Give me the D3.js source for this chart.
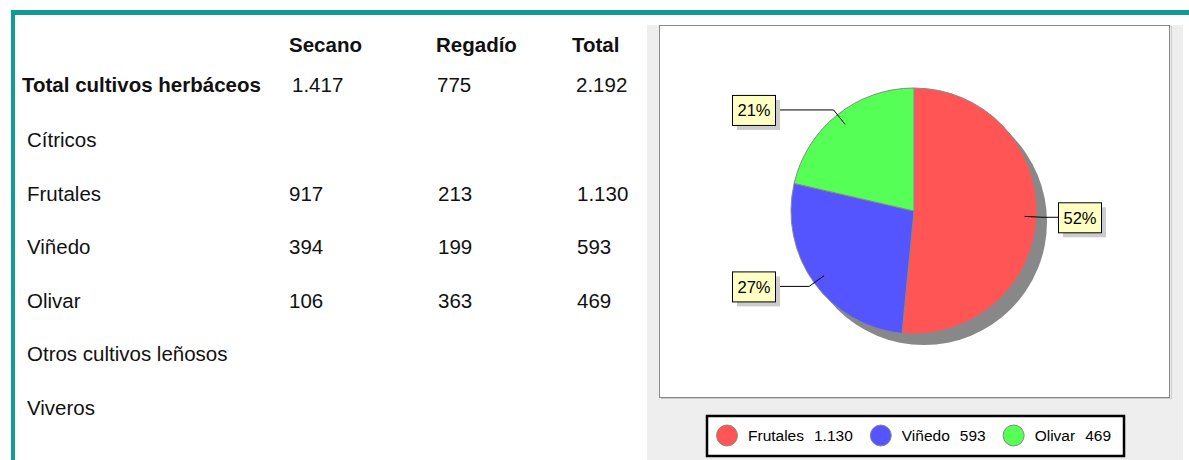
<!DOCTYPE html>
<html>
<head>
<meta charset="utf-8">
<script src="https://cdn.jsdelivr.net/npm/d3@7"></script>
<style>
  body { margin: 0; background: #fff; }
  svg { display: block; font-family: "Liberation Sans", Arial, sans-serif; }
</style>
</head>
<body>
<script>
const width = 1189,
      height = 460;

// table data
const columns = ["Secano", "Regadío", "Total"];
const rowLabels = ["Total cultivos herbáceos", "Cítricos", "Frutales", "Viñedo", "Olivar", "Otros cultivos leñosos", "Viveros"];
const secano  = [1417, null, 917, 394, 106, null, null];
const regadio = [775, null, 213, 199, 363, null, null];
const total   = [2192, null, 1130, 593, 469, null, null];

// pie data
const pieLabels = ["Frutales", "Viñedo", "Olivar"];
const pieValues = [1130, 593, 469];
const pieColors = ["#ff5555", "#5555ff", "#55ff55"];

const es = d3.formatLocale({decimal: ",", thousands: ".", grouping: [3], currency: ["", " €"]});
const fmt = es.format(",d");

var svg = d3.select("body").append("svg")
	.attr("width", width)
	.attr("height", height);

// teal frame
svg.append("rect").attr("x", 11).attr("y", 10).attr("width", width - 11).attr("height", 5).attr("fill", "#0f9c95");
svg.append("rect").attr("x", 11).attr("y", 10).attr("width", 4).attr("height", height - 10).attr("fill", "#0f9c95");

// ---- table ----
const colX = [289, 436, 572];
const valX = [[292, 437, 576], [289, 438, 577]];
const rowY = d3.scalePoint().domain(d3.range(1, rowLabels.length)).range([147, 415]);

var table = svg.append("g").style("font-size", "20.5px").attr("fill", "#111");

table.selectAll(".head")
	.data(columns)
	.enter().append("text")
	.attr("x", (d, i) => colX[i])
	.attr("y", 52)
	.style("font-weight", "bold")
	.text(d => d);

var rows = table.selectAll(".row")
	.data(rowLabels)
	.enter().append("g")
	.attr("transform", (d, i) => "translate(0," + (i == 0 ? 92 : rowY(i)) + ")");

rows.append("text")
	.attr("x", (d, i) => i == 0 ? 22 : 27)
	.style("font-weight", (d, i) => i == 0 ? "bold" : "normal")
	.text(d => d);

rows.each(function (d, i) {
	var vals = [secano[i], regadio[i], total[i]];
	var xs = i == 0 ? valX[0] : valX[1];
	d3.select(this).selectAll(".v")
		.data(vals)
		.enter().append("text")
		.attr("x", (v, j) => xs[j])
		.text(v => v == null ? "" : fmt(v));
});

// ---- chart panel ----
svg.append("rect").attr("x", 647).attr("y", 25).attr("width", 536).attr("height", height - 25).attr("fill", "#eeeeee");
svg.append("rect").attr("x", 661.5).attr("y", 26.5).attr("width", 510).attr("height", 372).attr("fill", "none").attr("stroke", "#cccccc");
svg.append("rect").attr("x", 659.5).attr("y", 25.5).attr("width", 510).attr("height", 372).attr("fill", "#fff").attr("stroke", "#888888");

const cx = 914, cy = 211, r = 123;
const sum = d3.sum(pieValues);

var pie = d3.pie().sort(null).value(d => d);
var arcs = pie(pieValues);
var arc = d3.arc().innerRadius(0).outerRadius(r);

var chart = svg.append("g").attr("transform", "translate(" + cx + "," + cy + ")");

// shadow
chart.append("circle")
	.attr("cx", 10).attr("cy", 11).attr("r", r)
	.attr("fill", "#888888");

chart.selectAll(".slice")
	.data(arcs)
	.enter().append("path")
	.attr("d", arc)
	.attr("fill", (d, i) => pieColors[i])
	.attr("stroke", "#888888")
	.attr("stroke-width", 1);

// labels
const boxW = 43, boxH = 30;
arcs.forEach(function (d, i) {
	var a = (d.startAngle + d.endAngle) / 2;
	var sx = Math.sin(a), sy = -Math.cos(a);
	var p1 = [sx * r * 0.9, sy * r * 0.9];
	var p2 = [sx * r * 1.05, sy * r * 1.05];
	var right = sx > 0;
	var bx = right ? 1058 - cx : 732 - cx;
	var by = p2[1] - boxH / 2;
	var ex = right ? bx : bx + boxW;

	chart.append("polyline")
		.attr("points", [p1, p2, [ex, p2[1]]].map(p => p.join(",")).join(" "))
		.attr("fill", "none")
		.attr("stroke", "#000")
		.attr("stroke-width", 1);

	chart.append("rect")
		.attr("x", bx + 5).attr("y", by + 5)
		.attr("width", boxW).attr("height", boxH)
		.attr("fill", "#cccccc");
	chart.append("rect")
		.attr("x", bx + 0.5).attr("y", by + 0.5)
		.attr("width", boxW).attr("height", boxH)
		.attr("fill", "#ffffc4")
		.attr("stroke", "#000");
	chart.append("text")
		.attr("x", bx + boxW / 2 + 0.5)
		.attr("y", by + boxH / 2 + 6.5)
		.attr("text-anchor", "middle")
		.style("font-size", "16.5px")
		.text(Math.round(d.value / sum * 100) + "%");
});

// legend
svg.append("rect")
	.attr("x", 707).attr("y", 416).attr("width", 417).attr("height", 40)
	.attr("fill", "#fff").attr("stroke", "#000").attr("stroke-width", 2.5);

var lx = 727;
pieLabels.forEach(function (name, i) {
	svg.append("circle")
		.attr("cx", lx).attr("cy", 435.5).attr("r", 10.5)
		.attr("fill", pieColors[i]).attr("stroke", "#888888");
	var t1 = svg.append("text")
		.attr("x", lx + 21).attr("y", 441)
		.style("font-size", "15.5px")
		.text(name);
	var w1 = t1.node().getComputedTextLength();
	var t2 = svg.append("text")
		.attr("x", lx + 21 + w1 + 10).attr("y", 441)
		.style("font-size", "15.5px")
		.text(fmt(pieValues[i]));
	var w2 = t2.node().getComputedTextLength();
	lx = lx + 21 + w1 + 10 + w2 + 28;
});
</script>
</body>
</html>
